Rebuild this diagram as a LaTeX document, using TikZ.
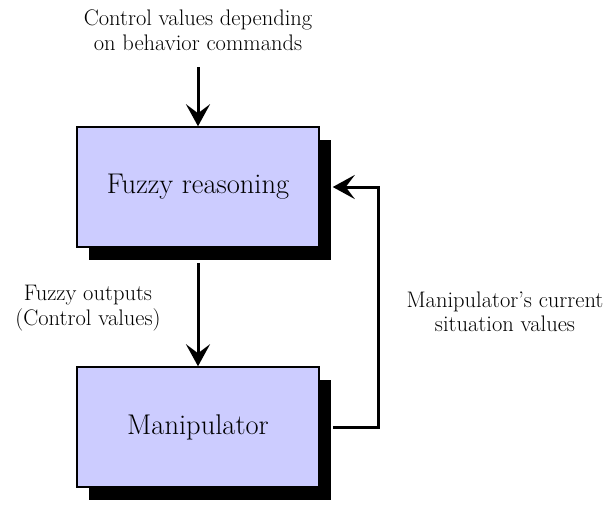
\documentclass[tikz,border=0pt]{standalone}
\usepackage{fontspec}
\usetikzlibrary{positioning,shadows,arrows.meta}

\begin{document}
\begin{tikzpicture}[node distance=240pt, on grid,
  block/.style={draw, line width=1.5pt, fill={rgb,255:red,204;green,204;blue,255},
    minimum width=242pt, minimum height=120pt, font=\fontsize{28.5}{32}\selectfont,
    drop shadow={shadow xshift=12pt, shadow yshift=-13pt, fill=black, opacity=1}},
  lbl/.style={align=center, font=\fontsize{22.5}{24.5}\selectfont},
  flow/.style={line width=3pt, -{Stealth[length=22pt,width=24pt,inset=9pt]}}]
  \useasboundingbox (-198pt,187pt) rectangle (414pt,-317pt);

  \node[block] (reason) {Fuzzy reasoning};
  \node[block] (manip) [below of= reason] {Manipulator};

  \node[lbl] (ctrl) at (0pt,157pt) {Control values depending\\on behavior commands};
  \node[lbl] (fout) at (-110pt,-121pt) {Fuzzy outputs\\(Control values)};
  \node[lbl] (sit) at (307pt,-125pt) {Manipulator's current\\situation values};

  \coordinate[above=120pt of reason] (in);
  \coordinate[right=180pt of reason] (back);

  \draw[flow] (in) -- (reason.north);
  \draw[flow] ([yshift=-15pt]reason.south) -- (manip.north);
  \draw[flow] ([xshift=13pt]manip.east) -| (back) -- ([xshift=13pt]reason.east);
\end{tikzpicture}
\end{document}
